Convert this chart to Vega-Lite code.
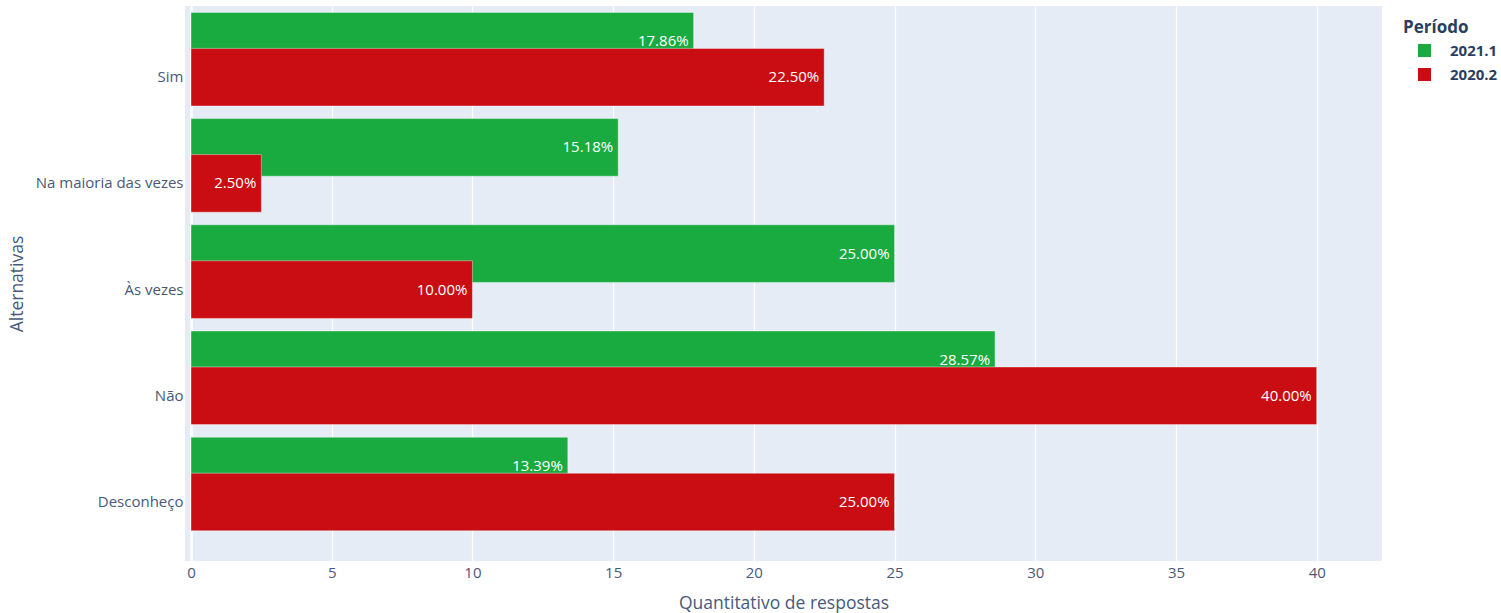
{
  "$schema": "https://vega.github.io/schema/vega-lite/v6.json",
  "width": 1197,
  "height": 555,
  "autosize": {"type": "none"},
  "padding": {"left": 185, "top": 6, "right": 119, "bottom": 52},
  "background": "white",
  "config": {"font": "Open Sans", "view": {"fill": "#E5ECF6", "stroke": null}},
  "data": {
    "values": [
      {"alternativa": "Sim", "periodo": "2021.1", "valor": 17.86, "texto": "17.86%"},
      {"alternativa": "Na maioria das vezes", "periodo": "2021.1", "valor": 15.18, "texto": "15.18%"},
      {"alternativa": "Às vezes", "periodo": "2021.1", "valor": 25.0, "texto": "25.00%"},
      {"alternativa": "Não", "periodo": "2021.1", "valor": 28.57, "texto": "28.57%"},
      {"alternativa": "Desconheço", "periodo": "2021.1", "valor": 13.39, "texto": "13.39%"},
      {"alternativa": "Sim", "periodo": "2020.2", "valor": 22.5, "texto": "22.50%"},
      {"alternativa": "Na maioria das vezes", "periodo": "2020.2", "valor": 2.5, "texto": "2.50%"},
      {"alternativa": "Às vezes", "periodo": "2020.2", "valor": 10.0, "texto": "10.00%"},
      {"alternativa": "Não", "periodo": "2020.2", "valor": 40.0, "texto": "40.00%"},
      {"alternativa": "Desconheço", "periodo": "2020.2", "valor": 25.0, "texto": "25.00%"}
    ]
  },
  "encoding": {
    "x": {
      "field": "valor",
      "type": "quantitative",
      "stack": null,
      "scale": {"domain": [-0.213, 42.32], "nice": false},
      "axis": {
        "title": "Quantitativo de respostas",
        "values": [0, 5, 10, 15, 20, 25, 30, 35, 40],
        "grid": true,
        "gridColor": "white",
        "gridWidth": {"condition": {"test": "datum.value === 0", "value": 2.5}, "value": 1.25},
        "ticks": false,
        "domain": false,
        "labelFontSize": 15,
        "labelColor": "#48597a",
        "labelPadding": 4,
        "titleFontSize": 17.5,
        "titleFontWeight": "normal",
        "titleColor": "#48597a",
        "titlePadding": 14
      }
    }
  },
  "resolve": {"scale": {"y": "independent"}, "axis": {"y": "independent"}},
  "layer": [
    {
      "transform": [{"filter": "datum.periodo === '2021.1'"}],
      "mark": {"type": "bar", "height": {"band": 0.904}, "stroke": "white", "strokeOpacity": 0.4, "strokeWidth": 1},
      "encoding": {
        "y": {
          "field": "alternativa",
          "type": "nominal",
          "sort": ["Sim", "Na maioria das vezes", "Às vezes", "Não", "Desconheço"],
          "scale": {"type": "band", "paddingInner": 0.4, "paddingOuter": 0.313, "align": 0.0502},
          "axis": null
        },
        "color": {
          "field": "periodo",
          "type": "nominal",
          "scale": {"domain": ["2021.1", "2020.2"], "range": ["#1AAB40", "#C90D12"]},
          "legend": {
            "title": "Período",
            "orient": "none",
            "legendX": 1218,
            "legendY": 14,
            "symbolType": "square",
            "symbolSize": 170,
            "symbolStrokeWidth": 0,
            "symbolOpacity": 1,
            "titleFontSize": 17,
            "titleFontWeight": "bold",
            "titleColor": "#2a3f5f",
            "labelFontSize": 15,
            "labelFontWeight": "bold",
            "labelColor": "#2a3f5f",
            "symbolOffset": 14,
            "labelOffset": 18,
            "rowPadding": 8,
            "titlePadding": 6
          }
        }
      }
    },
    {
      "transform": [{"filter": "datum.periodo === '2020.2'"}],
      "mark": {"type": "bar", "height": {"band": 0.904}, "stroke": "white", "strokeOpacity": 0.4, "strokeWidth": 1},
      "encoding": {
        "y": {
          "field": "alternativa",
          "type": "nominal",
          "sort": ["Sim", "Na maioria das vezes", "Às vezes", "Não", "Desconheço"],
          "scale": {"type": "band", "paddingInner": 0.4, "paddingOuter": 0.313, "align": 0.5916},
          "axis": {
            "orient": "left",
            "title": "Alternativas",
            "ticks": false,
            "domain": false,
            "grid": false,
            "labelFontSize": 15,
            "labelColor": "#48597a",
            "labelPadding": 2,
            "titleFontSize": 17.5,
            "titleFontWeight": "normal",
            "titleColor": "#48597a",
            "titlePadding": 9
          }
        },
        "color": {"field": "periodo", "type": "nominal"}
      }
    },
    {
      "transform": [{"filter": "datum.periodo === '2021.1'"}],
      "mark": {"type": "text", "align": "right", "baseline": "middle", "dx": -5, "color": "white", "fontSize": 15},
      "encoding": {
        "y": {
          "field": "alternativa",
          "type": "nominal",
          "sort": ["Sim", "Na maioria das vezes", "Às vezes", "Não", "Desconheço"],
          "scale": {"type": "band", "paddingInner": 0.4, "paddingOuter": 0.313, "align": 0.0502},
          "axis": null
        },
        "text": {"field": "texto", "type": "nominal"}
      }
    },
    {
      "transform": [{"filter": "datum.periodo === '2020.2'"}],
      "mark": {"type": "text", "align": "right", "baseline": "middle", "dx": -5, "color": "white", "fontSize": 15},
      "encoding": {
        "y": {
          "field": "alternativa",
          "type": "nominal",
          "sort": ["Sim", "Na maioria das vezes", "Às vezes", "Não", "Desconheço"],
          "scale": {"type": "band", "paddingInner": 0.4, "paddingOuter": 0.313, "align": 0.5916},
          "axis": null
        },
        "text": {"field": "texto", "type": "nominal"}
      }
    }
  ]
}
